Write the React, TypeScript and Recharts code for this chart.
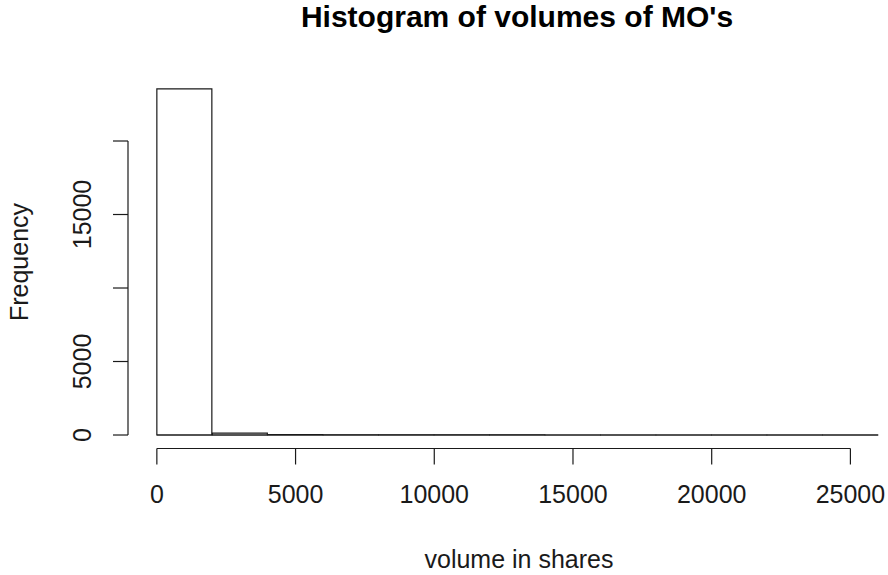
import React from 'react';
import { ComposedChart, Bar, XAxis, YAxis, ReferenceLine } from 'recharts';

// histogram bins of 2000 shares
const binMids = [1000, 3000, 5000, 7000, 9000, 11000, 13000, 15000, 17000, 19000, 21000, 23000, 25000];
const counts = [23540, 130, 35, 12, 6, 4, 3, 2, 1, 1, 1, 1, 1];

const xTicks = [0, 5000, 10000, 15000, 20000, 25000];
const xTickLabels = ['0', '5000', '10000', '15000', '20000', '25000'];
const yTicks = [0, 5000, 10000, 15000, 20000];
const yTickLabels = ['0', '5000', '', '15000', ''];

const data = binMids.map((mid, i) => ({ mid, count: counts[i] }));

const FONT = '"Liberation Sans", Arial, Helvetica, sans-serif';
const INK = '#1a1a1a';

const XTick = ({ x, y, payload }: any) => {
  const i = xTicks.indexOf(payload.value);
  return (
    <text x={x} y={y + 36.5} textAnchor="middle" fontSize={25} fontFamily={FONT} fill={INK}>
      {xTickLabels[i]}
    </text>
  );
};

const YTick = ({ x, y, payload }: any) => {
  const i = yTicks.indexOf(payload.value);
  const bx = x - 20;
  return (
    <text x={bx} y={y} transform={`rotate(-90, ${bx}, ${y})`} textAnchor="middle" fontSize={25} fontFamily={FONT} fill={INK}>
      {yTickLabels[i]}
    </text>
  );
};

export default function App() {
  return (
    <div style={{ position: 'absolute', left: 0, top: 0, width: 888, height: 575, overflow: 'hidden', background: '#fff' }}>
      <ComposedChart
        width={920}
        height={575}
        data={data}
        margin={{ top: 75, right: 13, bottom: 0, left: 0 }}
        barCategoryGap={0}
        barGap={0}
      >
        <XAxis
          type="number"
          dataKey="mid"
          domain={[-1040, 27040]}
          ticks={xTicks}
          axisLine={false}
          tickLine={{ stroke: INK, strokeWidth: 1.2 }}
          tickSize={16}
          tick={<XTick />}
          height={126.5}
          label={{
            content: () => (
              <text x={519} y={568} textAnchor="middle" fontSize={25} fontFamily={FONT} fill={INK}>
                volume in shares
              </text>
            ),
          }}
        />
        <YAxis
          type="number"
          domain={[-918, 24490]}
          ticks={yTicks}
          axisLine={false}
          tickLine={{ stroke: INK, strokeWidth: 1.2 }}
          tickSize={15}
          width={128}
          tick={<YTick />}
          label={{
            content: () => (
              <text x={28} y={262} transform="rotate(-90, 28, 262)" textAnchor="middle" fontSize={25} fontFamily={FONT} fill={INK}>
                Frequency
              </text>
            ),
          }}
        />
        <ReferenceLine segment={[{ x: -1040, y: 0 }, { x: -1040, y: 20000 }]} stroke={INK} strokeWidth={1.2} ifOverflow="visible" />
        <ReferenceLine segment={[{ x: 0, y: -918 }, { x: 25000, y: -918 }]} stroke={INK} strokeWidth={1.2} ifOverflow="visible" />
        <ReferenceLine segment={[{ x: 0, y: 0 }, { x: 26000, y: 0 }]} stroke={INK} strokeWidth={1.2} ifOverflow="visible" />
        <Bar dataKey="count" fill="none" stroke={INK} strokeWidth={1.2} isAnimationActive={false} />
      </ComposedChart>
      <svg width={888} height={60} style={{ position: 'absolute', left: 0, top: 0 }}>
        <text x={517} y={27} textAnchor="middle" fontSize={30} fontWeight="bold" fontFamily={FONT} fill="#000">
          Histogram of volumes of MO's
        </text>
      </svg>
    </div>
  );
}
